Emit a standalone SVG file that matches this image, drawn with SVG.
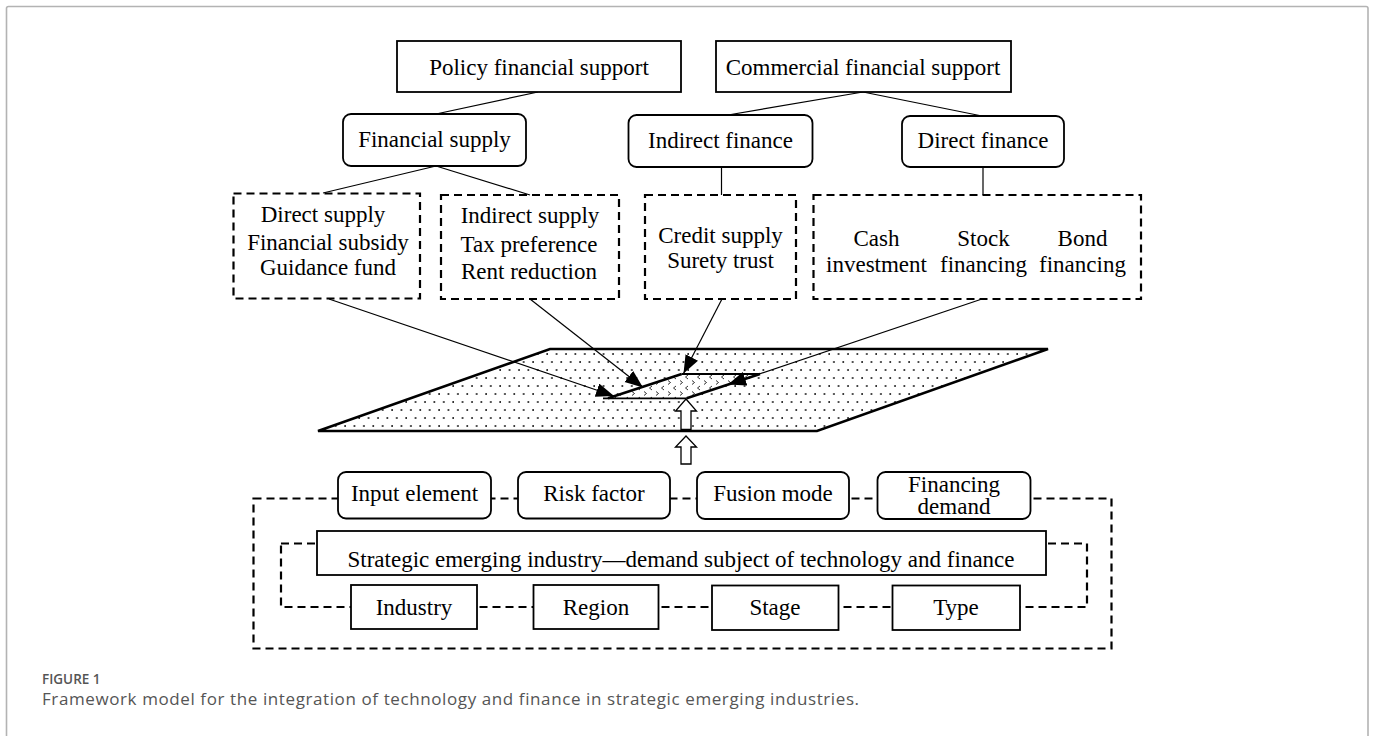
<svg xmlns="http://www.w3.org/2000/svg" width="1373" height="736" viewBox="0 0 1373 736">
  <style>
    .t { font-family: "Liberation Serif", "Times New Roman", serif; font-size: 23px; fill: #000; text-anchor: middle; }
    .box { fill: #fff; stroke: #000; stroke-width: 1.8; }
    .dash { fill: none; stroke: #000; stroke-width: 2.2; stroke-dasharray: 8 5; }
    .link { fill: none; stroke: #000; stroke-width: 1.2; }
    .arr { fill: none; stroke: #000; stroke-width: 1.2; marker-end: url(#head); }
    .hollow { fill: #fff; stroke: #000; stroke-width: 1.3; }
    .cap { font-family: "Open Sans", "Liberation Sans", sans-serif; fill: #555; }
  </style>
  <defs>
    <marker id="head" markerUnits="userSpaceOnUse" markerWidth="20" markerHeight="16" refX="18" refY="7" orient="auto">
      <path d="M0,0 L18,7 L0,14 Z" fill="#000"/>
    </marker>
    <pattern id="dots" width="9.4" height="16" patternUnits="userSpaceOnUse">
      <circle cx="2" cy="2" r="0.9" fill="#000"/>
      <circle cx="6.7" cy="10" r="0.9" fill="#000"/>
    </pattern>
    <pattern id="chev" width="12" height="11" patternUnits="userSpaceOnUse">
      <path d="M4,1 L1.5,3 L4,5" fill="none" stroke="#000" stroke-width="0.8"/>
      <path d="M8,6.5 L10.5,8.5 L8,10.5" fill="none" stroke="#000" stroke-width="0.8"/>
    </pattern>
  </defs>

  <rect width="1373" height="736" fill="#fff"/>
  <!-- figure frame -->
  <rect x="6.5" y="6.5" width="1361.5" height="780" rx="2" fill="none" stroke="#b3b3b3" stroke-width="1.6"/>

  <!-- connectors -->
  <g id="connectors">
    <line class="link" x1="538" y1="92" x2="436" y2="114"/>
    <line class="link" x1="863" y1="92" x2="728" y2="115"/>
    <line class="link" x1="863" y1="92" x2="982" y2="116"/>
    <line class="link" x1="436" y1="166" x2="323" y2="193"/>
    <line class="link" x1="436" y1="166" x2="530" y2="195"/>
    <line class="link" x1="721.5" y1="167" x2="721.5" y2="195"/>
    <line class="link" x1="983" y1="167" x2="983" y2="195"/>
  </g>

  <!-- support sources -->
  <g id="policy-support">
    <rect class="box" x="397" y="41" width="284" height="51"/>
    <text class="t" x="539" y="75">Policy financial support</text>
  </g>
  <g id="commercial-support">
    <rect class="box" x="716" y="41" width="295" height="51"/>
    <text class="t" x="863" y="75">Commercial financial support</text>
  </g>
  <g id="financial-supply">
    <rect class="box" x="343" y="114" width="183" height="52" rx="8"/>
    <text class="t" x="434.5" y="147">Financial supply</text>
  </g>
  <g id="indirect-finance">
    <rect class="box" x="628.5" y="115" width="184" height="52" rx="8"/>
    <text class="t" x="720.5" y="148">Indirect finance</text>
  </g>
  <g id="direct-finance">
    <rect class="box" x="902" y="116" width="162" height="51" rx="8"/>
    <text class="t" x="983" y="148">Direct finance</text>
  </g>

  <!-- supply / finance detail groups -->
  <g id="direct-supply">
    <rect class="dash" x="233.5" y="193.5" width="186.5" height="105"/>
    <text class="t" x="323" y="222">Direct supply</text>
    <text class="t" x="328" y="250">Financial subsidy</text>
    <text class="t" x="328" y="275">Guidance fund</text>
  </g>
  <g id="indirect-supply">
    <rect class="dash" x="441" y="195" width="178" height="104"/>
    <text class="t" x="530" y="223">Indirect supply</text>
    <text class="t" x="529" y="252">Tax preference</text>
    <text class="t" x="529" y="279">Rent reduction</text>
  </g>
  <g id="credit-supply">
    <rect class="dash" x="645" y="195" width="151" height="104"/>
    <text class="t" x="720.5" y="243">Credit supply</text>
    <text class="t" x="720.5" y="268">Surety trust</text>
  </g>
  <g id="direct-finance-forms">
    <rect class="dash" x="813.5" y="195" width="327.5" height="104"/>
    <text class="t" x="876.5" y="246">Cash</text>
    <text class="t" x="876.5" y="272">investment</text>
    <text class="t" x="983.5" y="246">Stock</text>
    <text class="t" x="983.5" y="272">financing</text>
    <text class="t" x="1082.5" y="246">Bond</text>
    <text class="t" x="1082.5" y="272">financing</text>
  </g>

  <!-- integration plane -->
  <g id="plane">
    <polygon points="550,349 1048,349 817,431 318,431" fill="url(#dots)" stroke="#000" stroke-width="2.5" stroke-linejoin="miter"/>
    <polygon points="605,398.3 681.7,374 760,374 686.7,398.3" fill="#fff" stroke="none"/>
    <polygon points="605,398.3 681.7,374 760,374 686.7,398.3" fill="url(#chev)" stroke="none"/>
    <line x1="681.7" y1="374" x2="760" y2="374" stroke="#000" stroke-width="1.8"/>
    <line x1="603" y1="398.3" x2="686.7" y2="398.3" stroke="#000" stroke-width="1.8"/>
    <line x1="608" y1="398.3" x2="681.7" y2="374" stroke="#000" stroke-width="2.6"/>
    <line x1="686.7" y1="398.3" x2="760" y2="374" stroke="#000" stroke-width="2.6"/>
  </g>

  <!-- flows into the plane -->
  <g id="flows">
    <line class="arr" x1="329" y1="299" x2="614" y2="396"/>
    <line class="arr" x1="530" y1="299" x2="643" y2="387.5"/>
    <line class="arr" x1="722" y1="299" x2="683.5" y2="373.5"/>
    <line class="arr" x1="982" y1="299" x2="728" y2="384.5"/>
    <polygon class="hollow" points="686,399 696.5,411 691,411 691,429.5 681,429.5 681,411 675.5,411"/>
    <polygon class="hollow" points="686,436 696.5,447 691,447 691,464 681,464 681,447 675.5,447"/>
  </g>

  <!-- demand side -->
  <g id="demand-frame-outer">
    <rect class="dash" x="253.5" y="498.5" width="858" height="150"/>
  </g>
  <g id="demand-frame-inner">
    <rect class="dash" x="281" y="543.5" width="806" height="63.5"/>
  </g>
  <g id="input-element">
    <rect class="box" x="338" y="472" width="153" height="46.5" rx="8"/>
    <text class="t" x="414.5" y="501">Input element</text>
  </g>
  <g id="risk-factor">
    <rect class="box" x="518" y="472" width="152" height="46.5" rx="8"/>
    <text class="t" x="594" y="501">Risk factor</text>
  </g>
  <g id="fusion-mode">
    <rect class="box" x="697" y="472" width="152" height="47" rx="8"/>
    <text class="t" x="773" y="501">Fusion mode</text>
  </g>
  <g id="financing-demand">
    <rect class="box" x="877.5" y="472" width="153" height="47" rx="8"/>
    <text class="t" x="954" y="491.5">Financing</text>
    <text class="t" x="954" y="514">demand</text>
  </g>
  <g id="strategic-industry">
    <rect class="box" x="317" y="531" width="729" height="44"/>
    <text class="t" x="681" y="566.5">Strategic emerging industry—demand subject of technology and finance</text>
  </g>
  <g id="industry">
    <rect class="box" x="351" y="585" width="126" height="44"/>
    <text class="t" x="414" y="615">Industry</text>
  </g>
  <g id="region">
    <rect class="box" x="533.5" y="585" width="125" height="44"/>
    <text class="t" x="596" y="615">Region</text>
  </g>
  <g id="stage">
    <rect class="box" x="712" y="585.5" width="126.5" height="44.5"/>
    <text class="t" x="775" y="615">Stage</text>
  </g>
  <g id="type">
    <rect class="box" x="892.5" y="585.5" width="127.5" height="44.5"/>
    <text class="t" x="956" y="615">Type</text>
  </g>

  <!-- caption -->
  <text class="cap" x="42" y="684" font-size="13.5" font-weight="600">FIGURE 1</text>
  <text class="cap" x="42" y="705" font-size="17" letter-spacing="0.6" fill="#5a5a5a">Framework model for the integration of technology and finance in strategic emerging industries.</text>
</svg>
